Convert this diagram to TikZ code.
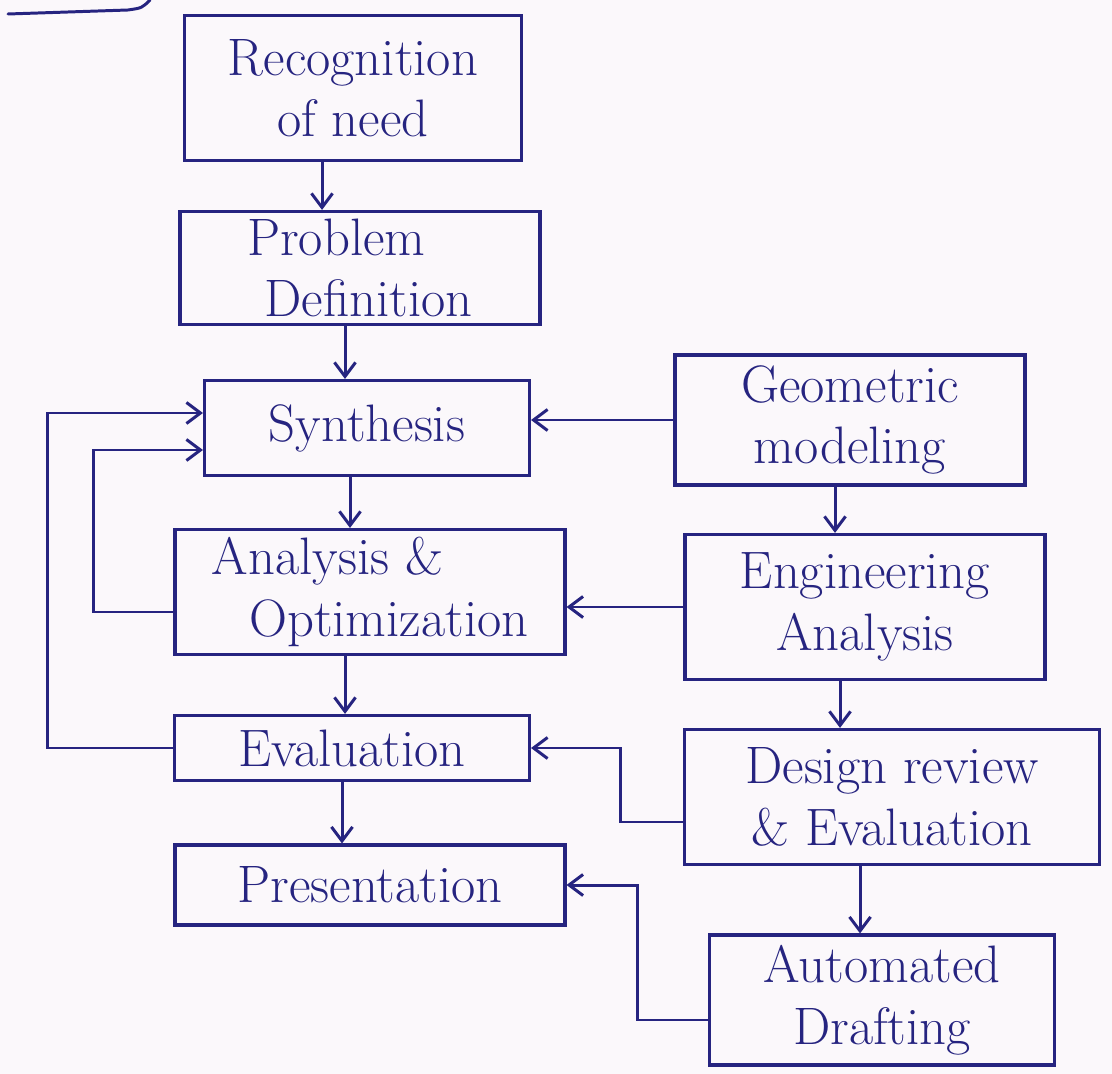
\documentclass[tikz,border=0pt]{standalone}
\usetikzlibrary{arrows.meta,calc}
\definecolor{ink}{RGB}{38,36,128}
\definecolor{paper}{RGB}{251,248,251}
\begin{document}
\begin{tikzpicture}[x=0.02cm,y=-0.02cm,
  box/.style={draw=ink,line width=1.8pt,text=ink,align=center,inner sep=0pt,
    font=\fontsize{30}{35}\selectfont},
  sz/.style 2 args={minimum width=#1,minimum height=#2},
  arr/.style={draw=ink,line width=1.7pt,-{Straight Barb[length=8pt,width=12pt]}},
  ln/.style={draw=ink,line width=1.7pt,line cap=round},
]
\fill[paper] (0,0) rectangle (1112,1074);
\useasboundingbox (0,0) rectangle (1112,1074);

% stroke running off the top edge
\draw[ln] (8,14) -- (128,10) .. controls (142,8) .. (150,0);

% main chain
\node[box,sz={6.74cm}{2.9cm}]  (rec) at (353,88)  {Recognition\\of need};
\node[box,sz={7.2cm}{2.26cm},align=left] (prob) at (360,268) {Problem\\\hspace*{0.35cm}Definition};
\node[box,sz={6.5cm}{1.9cm}]   (syn) at (367,428) {Synthesis};
\node[box,sz={7.8cm}{2.5cm},align=left] (ana) at (370,592) {Analysis \&\\\hspace*{0.75cm}Optimization};
\node[box,sz={7.1cm}{1.3cm}]   (eva) at (352,748) {Evaluation};
\node[box,sz={7.8cm}{1.6cm}]   (pre) at (370,885) {Presentation};

% computer-aided side
\node[box,sz={7.0cm}{2.6cm}]   (geo) at (850,420) {Geometric\\modeling};
\node[box,sz={7.2cm}{2.9cm}]   (eng) at (865,607) {Engineering\\Analysis};
\node[box,sz={8.3cm}{2.7cm}]   (des) at (892,797) {Design review\\\& Evaluation};
\node[box,sz={6.9cm}{2.6cm}]   (aut) at (882,1000) {Automated\\Drafting};

% start points of the downward arrows
\coordinate (d1) at ([xshift=-0.62cm]rec.south);
\coordinate (d2) at ([xshift=-0.30cm]prob.south);
\coordinate (d3) at ([xshift=-0.34cm]syn.south);
\coordinate (d4) at ([xshift=-0.50cm]ana.south);
\coordinate (d5) at ([xshift=-0.20cm]eva.south);
\coordinate (d6) at ([xshift=-0.30cm]geo.south);
\coordinate (d7) at ([xshift=-0.50cm]eng.south);
\coordinate (d8) at ([xshift=-0.64cm]des.south);

% downward flow
\draw[arr] (d1) -- (d1 |- prob.north);
\draw[arr] (d2) -- (d2 |- syn.north);
\draw[arr] (d3) -- (d3 |- ana.north);
\draw[arr] (d4) -- (d4 |- eva.north);
\draw[arr] (d5) -- (d5 |- pre.north);
\draw[arr] (d6) -- (d6 |- eng.north);
\draw[arr] (d7) -- (d7 |- des.north);
\draw[arr] (d8) -- (d8 |- aut.north);

% side inputs
\draw[arr] (geo.west) -- (geo.west -| syn.east);
\draw[arr] (eng.west) -- (eng.west -| ana.east);
\draw[arr] ([yshift=-0.5cm]des.west) -- ++(-62,0) |- (eva.east);
\draw[arr] ([yshift=-0.4cm]aut.west) -- ++(-70,0) |- (pre.east);

% feedback loops
\draw[arr] (eva.west) -- ++(-125,0) |- ([yshift=0.3cm]syn.west);
\draw[arr] ([yshift=-0.4cm]ana.west) -- ++(-80,0) |- ([yshift=-0.44cm]syn.west);
\end{tikzpicture}
\end{document}
